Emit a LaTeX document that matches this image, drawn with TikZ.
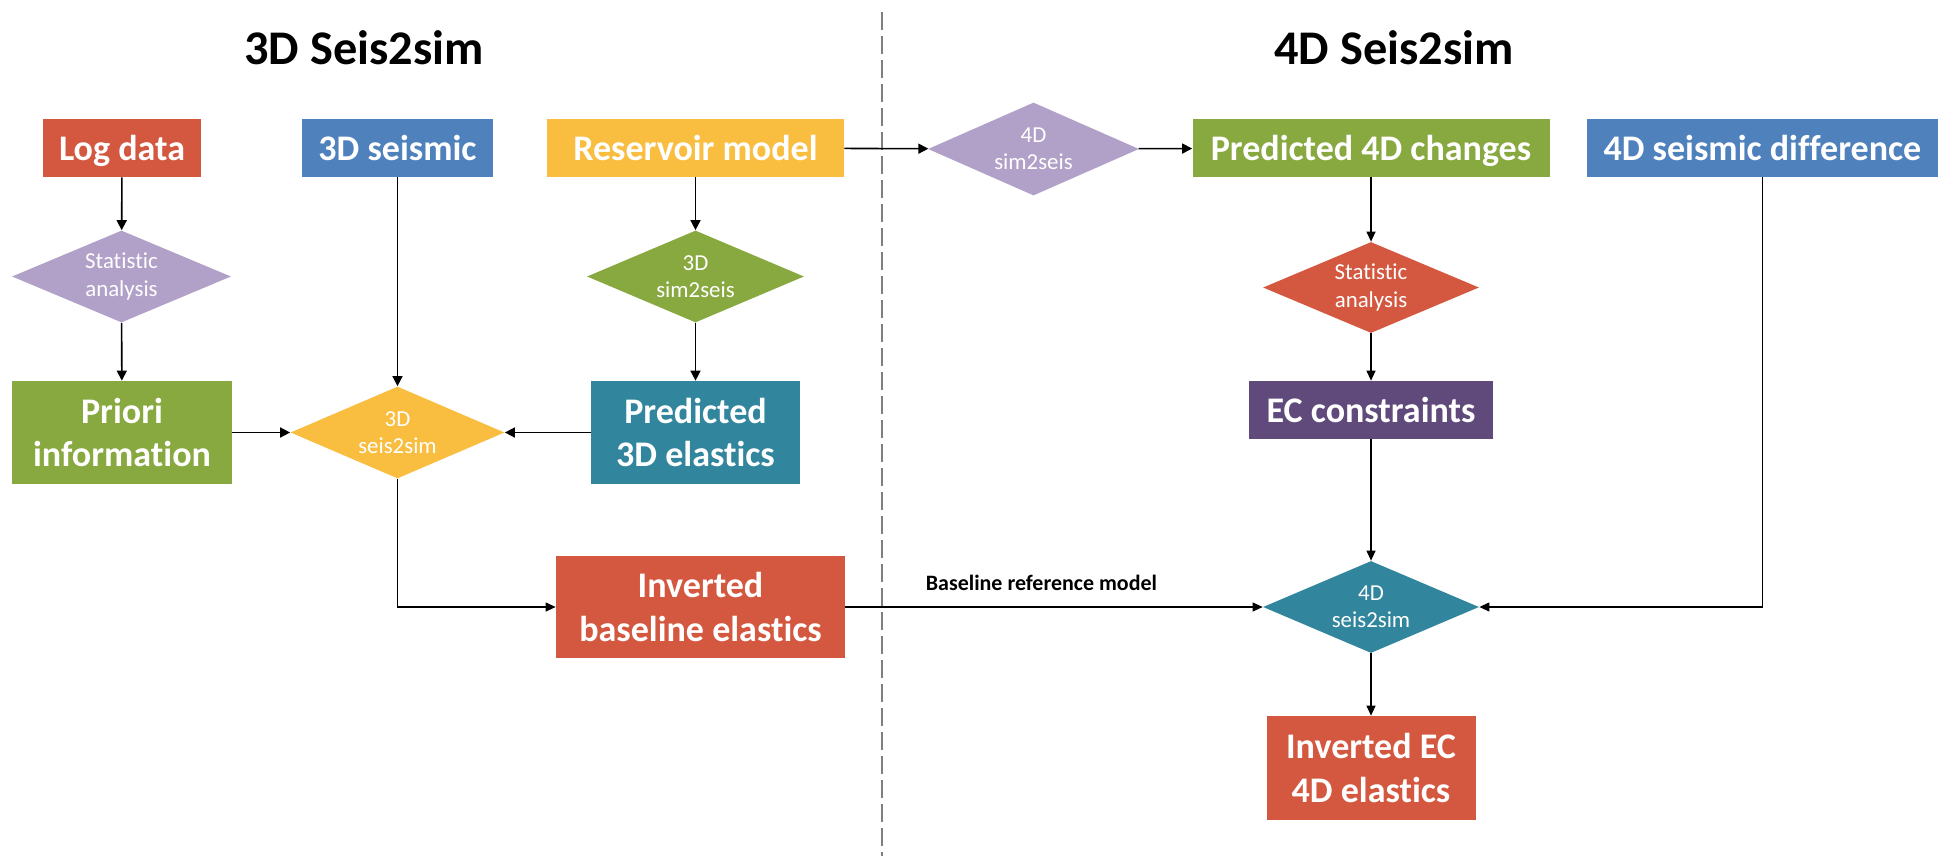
\documentclass[tikz,border=0pt]{standalone}
\usepackage{fontspec}
\setmainfont{Carlito}[Ligatures=NoCommon]
\usetikzlibrary{shapes.geometric,arrows.meta,positioning}

\definecolor{ofred}{RGB}{212,88,64}
\definecolor{ofblue}{RGB}{79,129,189}
\definecolor{ofyellow}{RGB}{249,190,64}
\definecolor{ofgreen}{RGB}{136,168,64}
\definecolor{oflilac}{RGB}{177,160,199}
\definecolor{ofteal}{RGB}{49,133,156}
\definecolor{ofplum}{RGB}{96,74,123}

\tikzset{
	databox/.style={rectangle, fill=#1, text=white, align=center, inner sep=0pt, text depth=0pt,
		minimum height=1.16cm, font=\fontsize{20.5}{25}\selectfont\bfseries},
	tallbox/.style={databox=#1, text depth=, minimum height=2.06cm},
	stepdiam/.style={diamond, fill=#1, text=white, align=center, inner sep=0pt, aspect=2.35,
		minimum width=4.3cm, minimum height=1.84cm, font=\fontsize{13}{15.5}\selectfont},
	conn/.style={line width=0.9pt, -{Triangle[length=0.2cm,width=0.2cm]}},
	thinconn/.style={line width=0.6pt, -{Triangle[length=0.2cm,width=0.18cm]}},
	headline/.style={font=\fontsize{27.5}{33}\selectfont\bfseries}
}

\begin{document}
\begin{tikzpicture}
	\useasboundingbox (0,0) rectangle (38.92,-17.12);
	
	%% titles and divider
	\node[headline] (title3d) at (7.28,-0.96) {3D Seis2sim};
	\node[headline] (title4d) at (27.88,-0.96) {4D Seis2sim};
	\coordinate (divtop) at (17.64,-0.24);
	\coordinate (divbot) at (17.64,-17.12);
	\draw[gray, line width=1.2pt, dash pattern=on 0.36cm off 0.12cm] (divtop) -- (divbot);
	
	%% 3D part
	\node[databox=ofred, minimum width=3.16cm] (logdata) at (2.44,-2.96) {Log data};
	\node[databox=ofblue, minimum width=3.82cm] (seis3d) at (7.95,-2.96) {3D seismic};
	\node[databox=ofyellow, minimum width=5.94cm] (resmodel) at (13.91,-2.96) {Reservoir model};
	\node[stepdiam=oflilac, minimum width=4.38cm] (stat3d) at (2.43,-5.53) {Statistic\\analysis};
	\node[stepdiam=ofgreen, minimum width=4.34cm] (sim2seis3d) at (13.91,-5.53) {3D\\sim2seis};
	\node[tallbox=ofgreen, minimum width=4.4cm] (priori) at (2.44,-8.65) {Priori\\information};
	\node[stepdiam=ofyellow, minimum width=4.28cm] (seis2sim3d) at (7.95,-8.65) {3D\\seis2sim};
	\node[tallbox=ofteal, minimum width=4.18cm] (pred3d) at (13.91,-8.65) {Predicted\\3D elastics};
	\node[tallbox=ofred, minimum width=5.78cm, minimum height=2.04cm] (invbase) at (14.01,-12.14) {Inverted\\baseline elastics};
	
	%% 4D part
	\node[stepdiam=oflilac, minimum width=4.22cm, minimum height=1.86cm] (sim2seis4d) at (20.67,-2.98) {4D\\sim2seis};
	\node[databox=ofgreen, minimum width=7.14cm] (pred4d) at (27.42,-2.96) {Predicted 4D changes};
	\node[databox=ofblue, minimum width=7.02cm] (seisdiff) at (35.25,-2.96) {4D seismic difference};
	\node[stepdiam=ofred, minimum width=4.32cm, minimum height=1.82cm] (stat4d) at (27.42,-5.75) {Statistic\\analysis};
	\node[databox=ofplum, minimum width=4.88cm] (ecconst) at (27.42,-8.2) {EC constraints};
	\node[stepdiam=ofteal, minimum width=4.32cm] (seis2sim4d) at (27.42,-12.14) {4D\\seis2sim};
	\node[tallbox=ofred, minimum width=4.18cm, minimum height=2.08cm] (invec) at (27.42,-15.36) {Inverted EC\\4D elastics};
	
	%% connectors
	\draw[conn] (logdata) -- (stat3d);
	\draw[conn] (stat3d) -- (priori);
	\draw[conn] (seis3d) -- (seis2sim3d);
	\draw[conn] (resmodel) -- (sim2seis3d);
	\draw[conn] (sim2seis3d) -- (pred3d);
	\draw[conn] (priori) -- (seis2sim3d);
	\draw[conn] (pred3d) -- (seis2sim3d);
	\draw[thinconn] (seis2sim3d.south) |- (invbase.west);
	\draw[conn] (resmodel) -- (sim2seis4d);
	\draw[conn] (sim2seis4d) -- (pred4d);
	\draw[thinconn] (pred4d) -- (stat4d);
	\draw[thinconn] (stat4d) -- (ecconst);
	\draw[thinconn] (ecconst) -- (seis2sim4d);
	\draw[thinconn] (invbase) -- node[pos=0.47, above=0.2cm, font=\fontsize{12.5}{15}\selectfont\bfseries] {Baseline reference model} (seis2sim4d);
	\draw[thinconn] (seisdiff.south) |- (seis2sim4d.east);
	\draw[thinconn] (seis2sim4d) -- (invec);
\end{tikzpicture}
\end{document}
